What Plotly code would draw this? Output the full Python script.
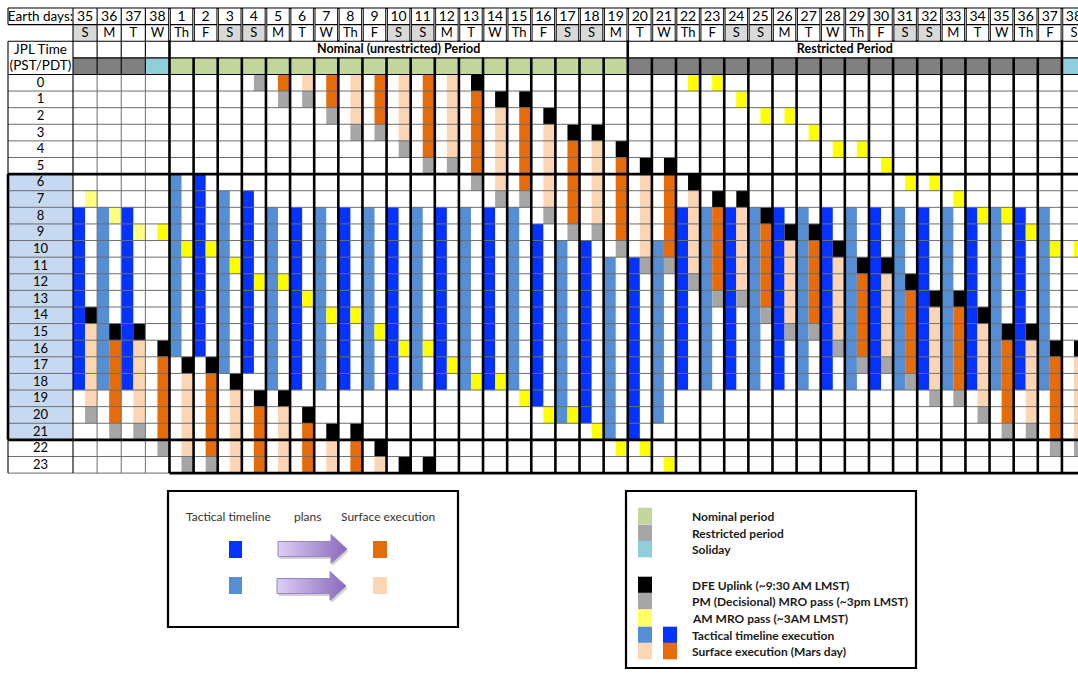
import plotly.graph_objects as go

# ---------------- data ----------------
earth_days = ['35', '36', '37', '38', '1', '2', '3', '4', '5', '6', '7', '8', '9', '10',
              '11', '12', '13', '14', '15', '16', '17', '18', '19', '20', '21', '22', '23',
              '24', '25', '26', '27', '28', '29', '30', '31', '32', '33', '34', '35', '36',
              '37', '38']
weekdays = ['S', 'M', 'T', 'W',
            'Th', 'F', 'S', 'S', 'M', 'T', 'W', 'Th', 'F', 'S', 'S', 'M', 'T', 'W', 'Th',
            'F', 'S', 'S', 'M',
            'T', 'W', 'Th', 'F', 'S', 'S', 'M', 'T', 'W', 'Th', 'F', 'S', 'S', 'M', 'T',
            'W', 'Th', 'F', 'S']
# N = nominal, R = restricted, X = soliday
periods = ['R', 'R', 'R', 'X',
           'N', 'N', 'N', 'N', 'N', 'N', 'N', 'N', 'N', 'N', 'N', 'N', 'N', 'N', 'N',
           'N', 'N', 'N', 'N',
           'R', 'R', 'R', 'R', 'R', 'R', 'R', 'R', 'R', 'R', 'R', 'R', 'R', 'R', 'R',
           'R', 'R', 'R', 'X']
hour_labels = ['0', '1', '2', '3', '4', '5', '6', '7', '8', '9', '10', '11', '12', '13',
               '14', '15', '16', '17', '18', '19', '20', '21', '22', '23']

# tactical timeline: start hour per earth day column and kind (D = dark, L = light)
tac_start = [8, 8, 8, None,
             6, 6, 7, 7, 8, 8, 8, 8, 8, 8, 8, 8, 8, 8, 8, 9, 10, 10, 11,
             11, 10, 8, 8, 8, 8, 8, 8, 8, 8, 8, 8, 8, 8, 8, 8, 8, 8, None]
tac_kind = ['D', 'L', 'D', '',
            'L', 'D', 'L', 'D', 'L', 'D', 'L', 'D', 'L', 'D', 'L', 'D', 'L', 'D', 'L',
            'D', 'L', 'D', 'L',
            'D', 'L', 'D', 'L', 'D', 'L', 'D', 'L', 'D', 'L', 'D', 'L', 'D', 'L', 'D',
            'L', 'D', 'L', '']
tac_hours = 11

# AM MRO pass hour per column
am_mro = [7, 8, 9, 9,
          10, 10, 11, 12, 12, 13, 14, 14, 15, 16, 16, 17, 18, 18, 19, 20, 20, 21, 22,
          22, 23, 0, 0, 1, 2, 2, 3, 4, 4, 5, 6, 6, 7, 8, 8, 9, 10, 10]
am_pale = [True, True, True] + [False] * 39

# DFE uplink hour per column, then the surface execution kind that follows it
dfe = [14, 15, 15, 16,
       17, 17, 18, 19, 19, 20, 21, 21, 22, 23, 23, None, 0, 1, 1, 2, 3, 3, 4,
       5, 5, 6, 7, 7, 8, 9, 9, 10, 11, 11, 12, 13, 13, 14, 15, 15, 16, 16]
exec_kind = ['L', 'D', 'L', 'D',
             'L', 'D', 'L', 'D', 'L', 'D', 'L', 'D', 'L', 'D', 'L', '', 'D', 'L', 'D',
             'L', 'D', 'L', 'D',
             'L', 'D', 'L', 'D', 'L', 'D', 'L', 'D', 'L', 'D', 'L', 'D', 'L', 'D', 'L',
             'D', 'L', 'D', 'L']
exec_hours = 5

# ---------------- styles ----------------
C = dict(tacD='#0432ff', tacL='#558ed5', exeD='#e46c0a', exeL='#fcd5b4',
         dfe='#000000', pm='#a6a6a6', am='#ffff00', amp='#ffff80',
         N='#c3d69b', R='#808080', X='#92cddc', label='#c6d9f1', weekend='#d9d9d9')
FONT = 'Lato, Noto Sans, sans-serif'
NCOL = len(earth_days)
WL = 2.695          # width of the label column (in day-column units)
XEND = 41.75
HDR = 4             # header rows above hour 0
W, H = 1078, 678

fig = go.Figure()


def bars(xs, bases, lens, color, width):
    if xs:
        fig.add_trace(go.Bar(x=xs, y=lens, base=bases, width=width,
                             marker=dict(color=color, line=dict(width=0)),
                             hoverinfo='skip', showlegend=False))


def split_run(col, start, n):
    """pieces (col, hour, length) of a run that may pass midnight"""
    out = []
    h = start
    left = n
    while left > 0:
        c = col + h // 24
        hh = h % 24
        take = min(left, 24 - hh)
        if c < NCOL:
            out.append((c, hh, take))
        h += take
        left -= take
    return out


# backgrounds
bars([-WL / 2], [HDR + 6], [16], C['label'], WL)
wk = [i for i, d in enumerate(weekdays) if d == 'S' and periods[i] != 'X']
bars([i + 0.5 for i in wk], [1] * len(wk), [1] * len(wk), C['weekend'], 1)
for p in ['N', 'R', 'X']:
    idx = [i for i, q in enumerate(periods) if q == p]
    bars([i + 0.5 for i in idx], [3] * len(idx), [1] * len(idx), C[p], 1)

# tactical timeline (left half of each day)
for k in ['D', 'L']:
    idx = [i for i in range(NCOL) if tac_start[i] is not None and tac_kind[i] == k]
    bars([i + 0.25 for i in idx], [HDR + tac_start[i] for i in idx],
         [tac_hours] * len(idx), C['tac' + k], 0.5)

# AM MRO passes
for pale in [False, True]:
    idx = [i for i in range(NCOL) if am_pale[i] == pale]
    bars([i + 0.75 for i in idx], [HDR + am_mro[i] for i in idx], [1] * len(idx),
         C['amp' if pale else 'am'], 0.5)

# DFE, surface execution, PM MRO
runs = {'dfe': [], 'exeD': [], 'exeL': [], 'pm': []}
for i in range(NCOL):
    if dfe[i] is None:
        continue
    runs['dfe'] += split_run(i, dfe[i], 1)
    runs['exe' + exec_kind[i]] += split_run(i, dfe[i] + 1, exec_hours)
    runs['pm'] += split_run(i, dfe[i] + exec_hours + 1, 1)
for key in ['exeD', 'exeL', 'dfe', 'pm']:
    r = runs[key]
    bars([c + 0.75 for c, h, n in r], [HDR + h for c, h, n in r], [n for c, h, n in r],
         C[key], 0.5)


# ---------------- grid lines ----------------
def lines(segs, color, width):
    xs, ys = [], []
    for (x0, y0, x1, y1) in segs:
        xs += [x0, x1, None]
        ys += [y0, y1, None]
    fig.add_trace(go.Scatter(x=xs, y=ys, mode='lines', line=dict(color=color, width=width),
                             hoverinfo='skip', showlegend=False))


ROWS = HDR + 24
thin_gray, thin_black, thick = [], [], []
for y in range(HDR + 1, ROWS):
    if y in (HDR + 6, HDR + 22):
        continue
    thin_gray.append((-WL, y, XEND, y))
thin_gray.append((-WL, ROWS, 4, ROWS))
for x in (1, 2, 3):
    thin_gray.append((x, HDR, x, ROWS))
    thin_black.append((x, 0, x, HDR))
thin_black += [(-WL, 0, XEND, 0), (-WL, 1, XEND, 1), (-WL, 2, XEND, 2), (0, 3, XEND, 3),
               (-WL, 4, XEND, 4), (0, 0, 0, ROWS), (-WL, 0, -WL, 1), (-WL, 2, -WL, HDR + 6),
               (-WL, HDR + 22, -WL, ROWS)]
thick += [(-WL, HDR + 6, XEND, HDR + 6), (-WL, HDR + 22, XEND, HDR + 22),
          (4, ROWS, XEND, ROWS), (-WL, HDR + 6, -WL, HDR + 22)]
white = []
for x in range(4, NCOL):
    if x in (4, 23, 41):
        thick.append((x, 0, x, ROWS))
    else:
        thick += [(x, 0, x, 2), (x, 3, x, ROWS)]
    white.append((x, 0.06, x, 1.94))
lines(thin_gray, '#6e6e6e', 1)
lines(thin_black, '#000000', 1.1)
lines(thick, '#000000', 2.6)
lines(white, '#ffffff', 0.7)


# ---------------- texts ----------------
def texts(xs, ys, labels, size, bold=False):
    fig.add_trace(go.Scatter(x=xs, y=ys, mode='text', text=labels, hoverinfo='skip',
                             showlegend=False,
                             textfont=dict(family=FONT, size=size, color='#000000',
                                           weight='bold' if bold else 'normal')))


texts([i + 0.5 for i in range(NCOL)], [0.55] * NCOL, earth_days, 14)
texts([i + 0.5 for i in range(NCOL)], [1.55] * NCOL, weekdays, 13)
texts([-WL / 2] * 24, [HDR + h + 0.55 for h in range(24)], hour_labels, 13)
texts([-WL / 2, -WL / 2, -WL / 2], [0.55, 2.55, 3.55], ['Earth days:', 'JPL Time', '(PST/PDT)'], 13.5)
texts([13.5, 32.0], [2.55, 2.55], ['Nominal (unrestricted) Period', 'Restricted Period'], 12.5, True)

# ---------------- legend boxes (pixel coordinates) ----------------
def P(x, y):
    return dict(x=x / W, y=1 - y / H)


shapes = []


def rect(x0, y0, x1, y1, fill=None, line=None, lw=0):
    shapes.append(dict(type='rect', xref='paper', yref='paper', x0=x0 / W, x1=x1 / W,
                       y0=1 - y0 / H, y1=1 - y1 / H,
                       fillcolor=fill if fill else 'rgba(0,0,0,0)',
                       line=dict(color=line if line else 'rgba(0,0,0,0)', width=lw)))


rect(168, 491, 458, 627, line='#000000', lw=2.2)
rect(626, 491, 916, 668, line='#000000', lw=2.2)

# box 1 swatches
rect(229, 541, 242, 558, C['tacD'])
rect(373, 541, 387, 558, C['exeD'])
rect(229, 577, 242, 594, C['tacL'])
rect(373, 577, 387, 594, C['exeL'])

# box 2 swatches
leg_items = [('Nominal period', [C['N']], 516), ('Restricted period', ['#a6a6a6'], 533),
             ('Soliday', [C['X']], 549), ('DFE Uplink (~9:30 AM LMST)', [C['dfe']], 585),
             ('PM (Decisional) MRO pass (~3pm LMST)', [C['pm']], 601),
             ('AM MRO pass (~3AM LMST)', ['#ffff66'], 618),
             ('Tactical timeline execution', [C['tacL'], C['tacD']], 635),
             ('Surface execution (Mars day)', [C['exeL'], C['exeD']], 651)]
annotations = []
for label, cols, yc in leg_items:
    for k, col in enumerate(cols):
        x0 = 638 + k * 25
        rect(x0, yc - 8.3, x0 + 14, yc + 8.3, col)
    annotations.append(dict(xref='paper', yref='paper', **P(690, yc), text=label,
                            showarrow=False, xanchor='left', yanchor='middle',
                            font=dict(family=FONT, size=12, color='#1a1a1a', weight='bold')))

for label, xc in [('Tactical timeline', 228), ('plans', 307), ('Surface execution', 388)]:
    annotations.append(dict(xref='paper', yref='paper', **P(xc, 516), text=label,
                            showarrow=False, xanchor='center', yanchor='middle',
                            font=dict(family=FONT, size=12, color='#333333')))


# gradient arrows in pixel axes
def arrow(x0, xt, yc, bh=7.5, hh=14.5, hl=16):
    xs = [x0, xt - hl, xt - hl, xt, xt - hl, xt - hl, x0, x0]
    ys = [yc - bh, yc - bh, yc - hh, yc, yc + hh, yc + bh, yc + bh, yc - bh]
    fig.add_trace(go.Scatter(x=[v + 1.5 for v in xs], y=[v + 2.5 for v in ys], xaxis='x2',
                             yaxis='y2', mode='lines', fill='toself',
                             fillcolor='rgba(0,0,0,0.18)', line=dict(width=0),
                             hoverinfo='skip', showlegend=False))
    fig.add_trace(go.Scatter(x=xs, y=ys, xaxis='x2', yaxis='y2', mode='lines', fill='toself',
                             fillgradient=dict(type='horizontal',
                                               colorscale=[[0, '#dccff3'], [1, '#8a69bd']]),
                             line=dict(color='#9a82c6', width=1),
                             hoverinfo='skip', showlegend=False))


arrow(278, 347, 549)
arrow(277, 346, 586)

fig.update_layout(
    width=W, height=H, margin=dict(l=0, r=0, t=0, b=0),
    paper_bgcolor='white', plot_bgcolor='white', barmode='overlay',
    xaxis=dict(range=[-73 / 24.12, (W - 73) / 24.12], visible=False, fixedrange=True),
    yaxis=dict(range=[(H - 8) / 16.61, -8 / 16.61], visible=False, fixedrange=True),
    xaxis2=dict(range=[0, W], overlaying='x', visible=False, fixedrange=True),
    yaxis2=dict(range=[H, 0], overlaying='y', visible=False, fixedrange=True),
    shapes=shapes, annotations=annotations, showlegend=False,
)

fig.write_html('out.html', config={'displayModeBar': False},
               post_script="document.body.style.margin='0';document.body.style.overflow='hidden';")
